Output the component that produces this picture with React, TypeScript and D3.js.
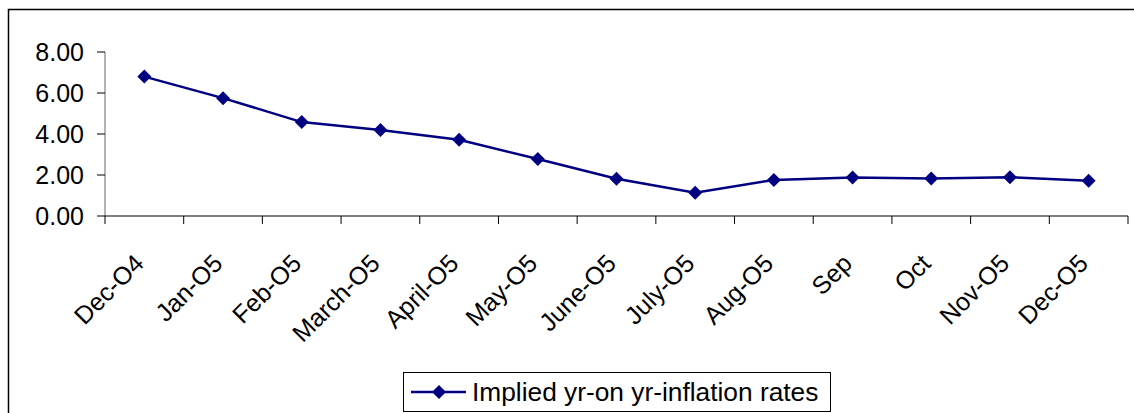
import React from "react";
import * as d3 from "d3";

const categories = [
  "Dec-O4", "Jan-O5", "Feb-O5", "March-O5", "April-O5", "May-O5", "June-O5",
  "July-O5", "Aug-O5", "Sep", "Oct", "Nov-O5", "Dec-O5",
];
const inflationValues = [6.8, 5.75, 4.58, 4.2, 3.72, 2.78, 1.82, 1.14, 1.76, 1.88, 1.83, 1.89, 1.72];
const yTicks = [0, 2, 4, 6, 8];
const seriesName = "Implied yr-on yr-inflation rates";

const W = 1134;
const H = 413;
const FONT = "'Liberation Sans', Arial, sans-serif";
const NAVY = "#000080";

export default function App() {
  const left = 105;
  const right = 1128;
  const top = 52;
  const bottom = 216;
  const x = d3.scaleBand<string>().domain(categories).range([left, right]).paddingInner(0).paddingOuter(0);
  const y = d3.scaleLinear().domain([0, 8]).range([bottom, top]);
  const cx = (c: string) => (x(c) as number) + x.bandwidth() / 2;
  const line = d3
    .line<number>()
    .x((_, i) => cx(categories[i]))
    .y((v) => y(v));
  const diamond = (px: number, py: number, r = 7) =>
    `M${px},${py - r}L${px + r},${py}L${px},${py + r}L${px - r},${py}Z`;
  const boundaries = categories.map((c) => x(c) as number).concat([right]);

  return (
    <div style={{ position: "absolute", left: 0, top: 0 }}>
      <svg width={W} height={H} style={{ display: "block", background: "#fff" }} fontFamily={FONT}>
        <rect x={8.5} y={9.5} width={W + 10} height={H + 10} fill="#fff" stroke="#000" strokeWidth={1.5} />
        {/* y axis */}
        <line x1={left} x2={left} y1={top} y2={bottom} stroke="#808080" strokeWidth={1.2} />
        {yTicks.map((t) => (
          <g key={t}>
            <line x1={left - 8} x2={left} y1={y(t)} y2={y(t)} stroke="#000" strokeWidth={1} />
            <text x={left - 21} y={y(t)} textAnchor="end" dominantBaseline="central" fontSize={25} fill="#000">
              {t.toFixed(2)}
            </text>
          </g>
        ))}
        {/* x axis */}
        <line x1={left} x2={right} y1={bottom} y2={bottom} stroke="#000" strokeWidth={1.2} />
        {boundaries.map((b, i) => (
          <line key={i} x1={b} x2={b} y1={bottom} y2={bottom + 8} stroke="#000" strokeWidth={1} />
        ))}
        {categories.map((c) => (
          <text
            key={c}
            transform={`translate(${cx(c) + 1},${bottom + 49}) rotate(-45)`}
            textAnchor="end"
            fontSize={25}
            fill="#000"
          >
            {c}
          </text>
        ))}
        {/* series */}
        <path d={line(inflationValues) || ""} fill="none" stroke={NAVY} strokeWidth={2.5} />
        {inflationValues.map((v, i) => (
          <path key={i} d={diamond(cx(categories[i]), y(v))} fill={NAVY} />
        ))}
        {/* legend */}
        <rect x={403.5} y={372.5} width={427} height={39} fill="#fff" stroke="#000" strokeWidth={1} />
        <line x1={411} x2={466} y1={392} y2={392} stroke={NAVY} strokeWidth={2.5} />
        <path d={diamond(439, 392, 7)} fill={NAVY} />
        <text x={472} y={392} dominantBaseline="central" fontSize={26.3} fill="#000">
          {seriesName}
        </text>
      </svg>
    </div>
  );
}
